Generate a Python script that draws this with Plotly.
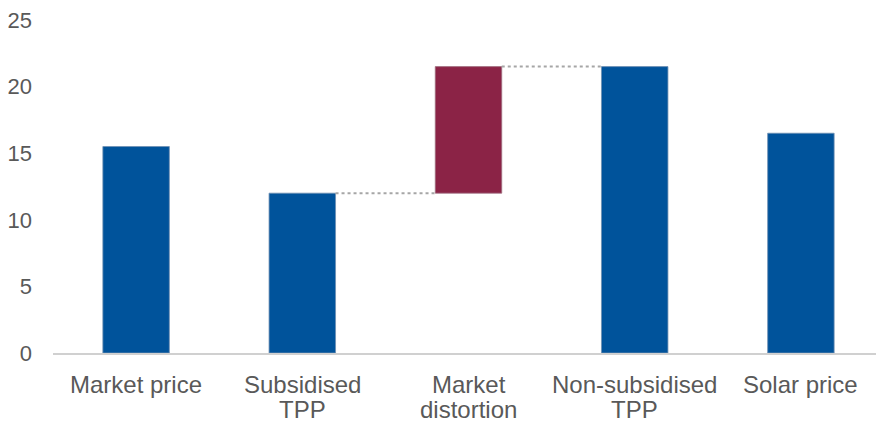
import plotly.graph_objects as go

categories = ["Market price", "Subsidised TPP", "Market distortion", "Non-subsidised TPP", "Solar price"]
label_lines = [["Market price"], ["Subsidised", "TPP"], ["Market", "distortion"], ["Non-subsidised", "TPP"], ["Solar price"]]
market_price = 15.5
subsidised_tpp = 12.0
non_subsidised_tpp = 21.5
solar_price = 16.5
distortion = non_subsidised_tpp - subsidised_tpp
y_ticks = [0, 5, 10, 15, 20, 25]

blue_x = [0, 1, 3, 4]
blue_y = [market_price, subsidised_tpp, non_subsidised_tpp, solar_price]

BLUE = "#00539B"
MAROON = "#8B2346"
TEXT = "#595959"
BAR_W = 0.4
half = BAR_W / 2

fig = go.Figure()
fig.add_trace(go.Bar(x=blue_x, y=blue_y, width=BAR_W,
                     marker=dict(color=BLUE, line=dict(color="#6f8fb3", width=0.8)),
                     showlegend=False, hoverinfo="y"))
fig.add_trace(go.Bar(x=[2], y=[distortion], base=[subsidised_tpp], width=BAR_W,
                     marker=dict(color=MAROON, line=dict(color="#a07080", width=0.8)),
                     showlegend=False))
# connectors
fig.add_trace(go.Scatter(x=[1 + half, 2 - half], y=[subsidised_tpp, subsidised_tpp], mode="lines",
                         line=dict(color="#a6a6a6", width=2, dash="dot"), showlegend=False, hoverinfo="skip"))
fig.add_trace(go.Scatter(x=[2 + half, 3 - half], y=[non_subsidised_tpp, non_subsidised_tpp], mode="lines",
                         line=dict(color="#a6a6a6", width=2, dash="dot"), showlegend=False, hoverinfo="skip"))

# category labels (two-line labels with tight line spacing)
for i, lines in enumerate(label_lines):
    for j, line in enumerate(lines):
        fig.add_annotation(x=i, y=0, xref="x", yref="y", text=line, showarrow=False,
                           yanchor="middle", yshift=-31 - 25 * j,
                           font=dict(size=24, color=TEXT, family="Liberation Sans, Arial, sans-serif"))

fig.update_layout(
    width=876, height=415,
    margin=dict(l=43, r=0, t=8, b=70),
    plot_bgcolor="white", paper_bgcolor="white",
    font=dict(family="Liberation Sans, Arial, sans-serif", color=TEXT),
    barmode="overlay",
)
fig.update_xaxes(
    range=[-0.5, 4.5], tickvals=list(range(5)), ticktext=categories, showticklabels=False,
    showgrid=False, zeroline=False, showline=True, linecolor="#d0d0d0", linewidth=2,
    ticks="",
)
fig.update_yaxes(
    range=[0, 25], tickvals=y_ticks, showgrid=False, zeroline=False, showline=False,
    ticks="", tickfont=dict(size=22, color=TEXT), ticklabelstandoff=20,
    ticklabeloverflow="allow",
)

fig.write_html("out.html")
